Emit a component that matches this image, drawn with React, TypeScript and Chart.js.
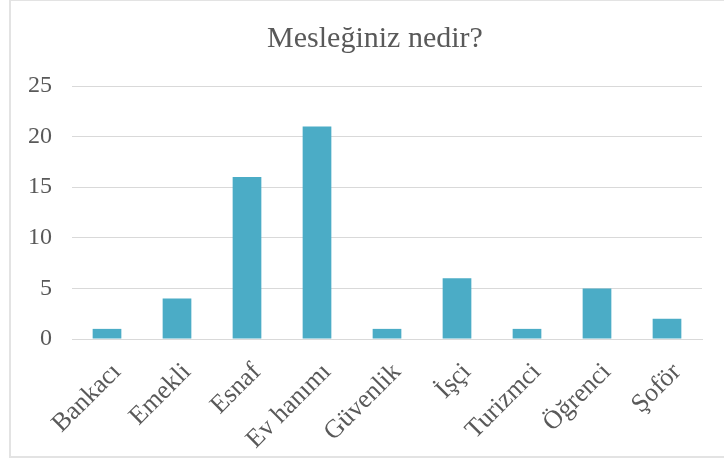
import React, { useEffect, useRef } from "react";
import { Chart, registerables } from "chart.js";

Chart.register(...registerables);

const categories = ["Bankacı", "Emekli", "Esnaf", "Ev hanımı", "Güvenlik", "İşçi", "Turizmci", "Öğrenci", "Şoför"];
const counts = [1, 4, 16, 21, 1, 6, 1, 5, 2];
const chartTitle = "Mesleğiniz nedir?";
const yMax = 25;
const yStep = 5;

const FONT = "'Liberation Serif', 'Times New Roman', serif";
const TEXT = "#595959";
const GRID = "#d9d9d9";
const BAR = "#4bacc6";

const centeredTitle = {
  id: "centeredTitle",
  afterDraw(chart: any) {
    const ctx = chart.ctx;
    ctx.save();
    ctx.fillStyle = TEXT;
    ctx.font = `normal 30px ${FONT}`;
    ctx.textAlign = "center";
    ctx.textBaseline = "middle";
    ctx.fillText(chartTitle, chart.width / 2, 39);
    ctx.restore();
  },
};

export default function App() {
  const ref = useRef<HTMLCanvasElement | null>(null);

  useEffect(() => {
    document.body.style.margin = "0";
    const ctx = ref.current!;
    const chart = new Chart(ctx, {
      type: "bar",
      data: {
        labels: categories,
        datasets: [
          {
            data: counts,
            backgroundColor: BAR,
            borderWidth: 0,
            barPercentage: 0.41,
            categoryPercentage: 1,
          },
        ],
      },
      plugins: [centeredTitle],
      options: {
        animation: false,
        responsive: false,
        maintainAspectRatio: false,
        layout: { padding: { left: 0, right: 38, top: 86, bottom: 0 } },
        plugins: {
          legend: { display: false },
          tooltip: { enabled: false },
          title: { display: false },
        },
        scales: {
          x: {
            grid: { display: false, drawTicks: false },
            border: { display: true, color: GRID, width: 1 },
            ticks: {
              color: TEXT,
              font: { family: FONT, size: 26 },
              minRotation: 45,
              maxRotation: 45,
              autoSkip: false,
              padding: 18,
              labelOffset: 10,
            },
            afterFit: (s: any) => {
              s.height = 124;
            },
          },
          y: {
            min: 0,
            max: yMax,
            grid: { color: GRID, lineWidth: 1, drawTicks: false },
            border: { display: false },
            ticks: {
              stepSize: yStep,
              color: TEXT,
              font: { family: FONT, size: 24 },
              padding: 20,
            },
            afterFit: (s: any) => {
              s.width = 62;
            },
          },
        },
      },
    });
    return () => chart.destroy();
  }, []);

  return (
    <div style={{ position: "relative", width: 724, height: 463, overflow: "hidden", background: "#fff" }}>
      <div
        style={{
          position: "absolute",
          left: 9,
          top: -1,
          width: 760,
          height: 459,
          border: "2px solid #e3e3e3",
          boxSizing: "border-box",
        }}
      />
      <canvas
        ref={ref}
        width={730}
        height={463}
        style={{ position: "absolute", left: 10, top: 0, width: 730, height: 463 }}
      />
    </div>
  );
}
